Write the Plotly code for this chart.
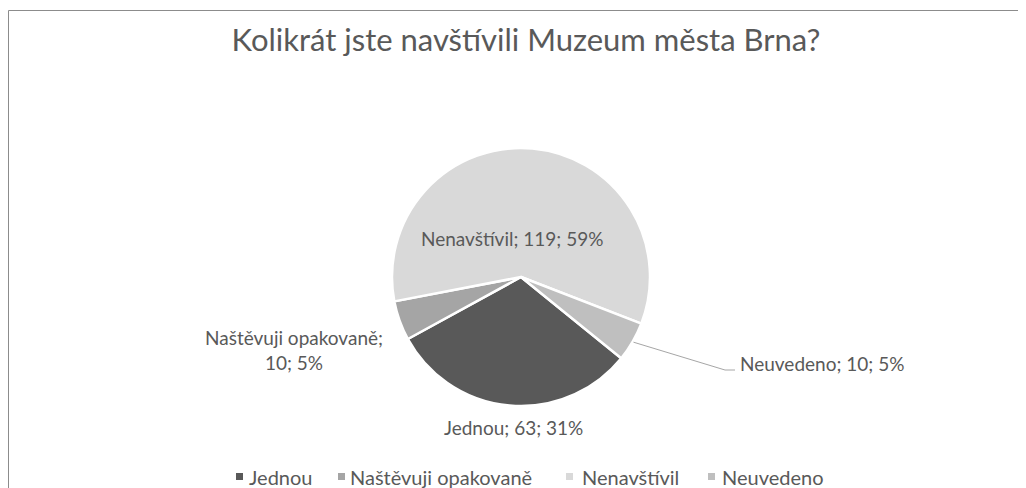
import math
import plotly.graph_objects as go

categories = ["Jednou", "Naštěvuji opakovaně", "Nenavštívil", "Neuvedeno"]
values = [63, 10, 119, 10]
colors = ["#595959", "#a5a5a5", "#d9d9d9", "#bfbfbf"]
title = "Kolikrát jste navštívili Muzeum města Brna?"

# page body has an 8px margin; figure sized to fill the rest of the window
OFF = 8
W, H = 1018, 480
cx, cy, R = 521, 277, 129      # page coordinates of the pie
rotation = 129
FONT = "Lato"
TXT = "#595959"

total = sum(values)
pcts = [round(v / total * 100) for v in values]


def px(X, Y):
    """page pixel -> paper coords"""
    return (X - OFF) / W, 1 - (Y - OFF) / H


fig = go.Figure()
x0, y1 = px(cx - R, cy - R)
x1, y0 = px(cx + R, cy + R)
fig.add_trace(go.Pie(
    labels=categories, values=values, sort=False, direction="clockwise",
    rotation=rotation, marker=dict(colors=colors, line=dict(color="white", width=2.5)),
    textinfo="none", hoverinfo="label+value+percent", showlegend=False,
    domain=dict(x=[x0, x1], y=[y0, y1]),
))

annotations = []
# data labels (page coords)
label_pos = [
    (513, 427, "center"),
    (294, 350, "center"),
    (512, 238, "center"),
    (738, 363, "left"),
]
for i, (X, Y, al) in enumerate(label_pos):
    if i == 1:
        t = f"{categories[i]};<br>{values[i]}; {pcts[i]}%"
    else:
        t = f"{categories[i]}; {values[i]}; {pcts[i]}%"
    ax, ay = px(X, Y)
    annotations.append(dict(x=ax, y=ay, xref="paper", yref="paper", text=t, showarrow=False,
                            xanchor=al, yanchor="middle", align="center",
                            font=dict(family=FONT, size=19, color=TXT)))

# leader line for Neuvedeno
cum = sum(values[:3]) + values[3] / 2
ang = math.radians(rotation + cum / total * 360)
sx = cx + (R + 1) * math.sin(ang)
sy = cy - (R + 1) * math.cos(ang)
p0 = px(sx, sy)
p1 = px(725, 370)
p2 = px(735, 370)
shapes = [
    dict(type="path", xref="paper", yref="paper",
         path=f"M {p0[0]},{p0[1]} L {p1[0]},{p1[1]} L {p2[0]},{p2[1]}",
         line=dict(color="#a6a6a6", width=1)),
]
# chart border
b0 = px(8.5, 10.5)
shapes.append(dict(type="rect", xref="paper", yref="paper", x0=b0[0], y0=-0.05, x1=1.05, y1=b0[1],
                   line=dict(color="#8c8c8c", width=1)))

# custom legend (page coords of square left edges and text starts)
leg_sq_x = [236, 338, 566, 708]
leg_tx_x = [247, 348, 580, 720]
leg_y = 476.5
for i, c in enumerate(categories):
    qa = px(leg_sq_x[i], leg_y - 3.5)
    qb = px(leg_sq_x[i] + 7, leg_y + 3.5)
    shapes.append(dict(type="rect", xref="paper", yref="paper", x0=qa[0], x1=qb[0], y0=qb[1], y1=qa[1],
                       fillcolor=colors[i], line=dict(width=0)))
    ta = px(leg_tx_x[i], leg_y)
    annotations.append(dict(x=ta[0], y=ta[1], xref="paper", yref="paper", text=c, showarrow=False,
                            xanchor="left", yanchor="middle",
                            font=dict(family=FONT, size=20, color=TXT)))

tx, ty = px(526, 40)
fig.update_layout(
    width=W, height=H, margin=dict(l=0, r=0, t=0, b=0),
    paper_bgcolor="white", plot_bgcolor="white",
    title=dict(text=title, x=tx, xanchor="center", y=ty, yanchor="middle",
               font=dict(family=FONT, size=31, color=TXT)),
    showlegend=False,
    annotations=annotations, shapes=shapes,
)

fig.write_html("out.html")
